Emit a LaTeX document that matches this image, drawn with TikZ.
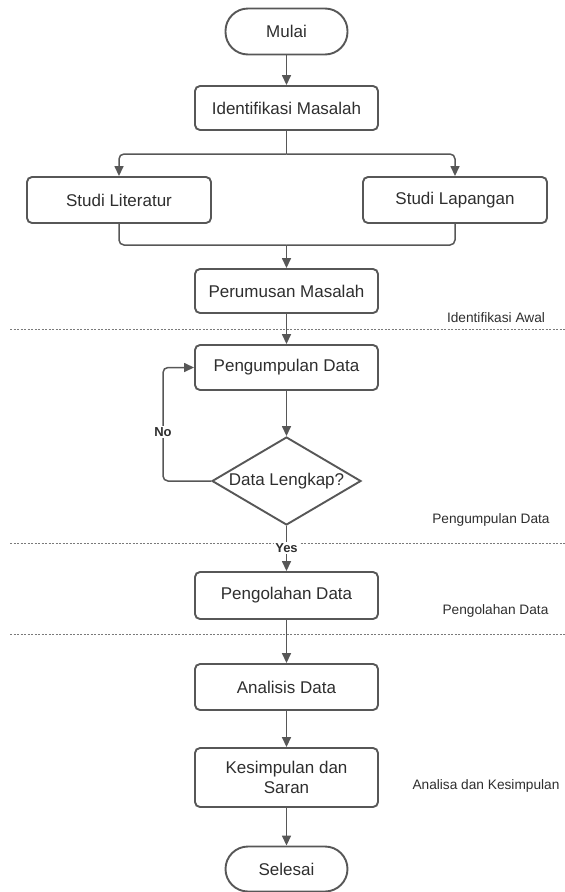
\documentclass[tikz,border=0pt]{standalone}
\usepackage{fontspec}
\setmainfont{Liberation Sans}
\usetikzlibrary{arrows.meta,shapes.geometric,positioning}
\definecolor{edge}{HTML}{575757}
\definecolor{txt}{HTML}{2E2E2E}
\definecolor{dots}{HTML}{7A7A7A}
\begin{document}
\begin{tikzpicture}[x=1pt,y=-1pt,
  proc/.style={draw=edge,line width=1.9pt,rounded corners=5pt,minimum width=183pt,
    minimum height=44pt,inner sep=2pt,align=center,text=txt,
    font=\fontsize{17}{20}\selectfont},
  term/.style={draw=edge,line width=1.9pt,rounded corners=22.5pt,minimum width=122pt,
    minimum height=46pt,inner sep=2pt,text=txt,font=\fontsize{17}{20}\selectfont},
  dec/.style={draw=edge,line width=1.9pt,shape=diamond,aspect=1.69,inner sep=0pt,
    minimum width=149pt,minimum height=88pt,text=txt,font=\fontsize{17}{20}\selectfont},
  conn/.style={draw=edge,line width=1.5pt,rounded corners=5pt,
    -{Triangle[length=10pt,width=9pt]}},
  plain/.style={draw=edge,line width=1.5pt,rounded corners=5pt},
  sep/.style={draw=dots,line width=0.8pt,dash pattern=on 2pt off 1.5pt},
  phase/.style={text=txt,font=\fontsize{13.7}{16}\selectfont,inner sep=0pt},
  yn/.style={text=txt,font=\bfseries\fontsize{13}{15}\selectfont,fill=white,inner sep=1pt}
]
\useasboundingbox (0,0) rectangle (565,892);

% separators
\coordinate (s1a) at (10,329); \coordinate (s1b) at (565,329);
\coordinate (s2a) at (10,543); \coordinate (s2b) at (565,543);
\coordinate (s3a) at (10,634); \coordinate (s3b) at (565,634);
\draw[sep] (s1a) -- (s1b);
\draw[sep] (s2a) -- (s2b);
\draw[sep] (s3a) -- (s3b);

% nodes
\node[term] (mulai) at (286.5,31.5) {Mulai};
\node[proc] (ident) at (286.5,108) {Identifikasi Masalah};
\node[proc,minimum width=184pt,minimum height=46pt] (lit) at (119,200) {Studi Literatur};
\node[proc,minimum width=184pt,minimum height=46pt] (lap) at (455,200) {Studi Lapangan};
\node[proc] (rumus) at (286.5,291) {Perumusan Masalah};
\node[proc,minimum height=45pt] (kumpul) at (286.5,367.5) {Pengumpulan Data};
\node[dec] (cek) at (286.5,481) {Data Lengkap?};
\node[proc,minimum height=47pt] (olah) at (286.5,595.5) {Pengolahan Data};
\node[proc,minimum height=46pt] (anal) at (286.5,687) {Analisis Data};
\node[proc,minimum height=59pt] (simp) at (286.5,777.5) {Kesimpulan dan\\Saran};
\node[term,minimum height=45pt] (selesai) at (286.5,869) {Selesai};

% phase labels
\node[phase] (p1) at (496,318) {Identifikasi Awal};
\node[phase] (p2) at (491,520) {Pengumpulan Data};
\node[phase] (p3) at (495.5,611) {Pengolahan Data};
\node[phase] (p4) at (486,786) {Analisa dan Kesimpulan};

% connectors
\coordinate (split) at (286.5,154);
\coordinate (merge) at (286.5,245);
\draw[conn] (mulai) -- (ident);
\draw[plain] (ident.south) -- (split);
\draw[conn] (split) -| (lit.north);
\draw[conn] (split) -| (lap.north);
\draw[plain] (lit.south) |- (merge);
\draw[plain] (lap.south) |- (merge);
\draw[conn] (merge) -- (rumus.north);
\draw[conn] (rumus) -- (kumpul);
\draw[conn] (kumpul) -- (cek);
\coordinate (loopx) at (163,481);
\draw[conn] (cek.west) -- (loopx) |- (kumpul.west);
\node[yn] (no) at (163,432) {No};
\draw[conn] (cek.south) -- (olah.north);
\node[yn] (yes) at (286.5,548) {Yes};
\draw[conn] (olah) -- (anal);
\draw[conn] (anal) -- (simp);
\draw[conn] (simp) -- (selesai);
\end{tikzpicture}
\end{document}
